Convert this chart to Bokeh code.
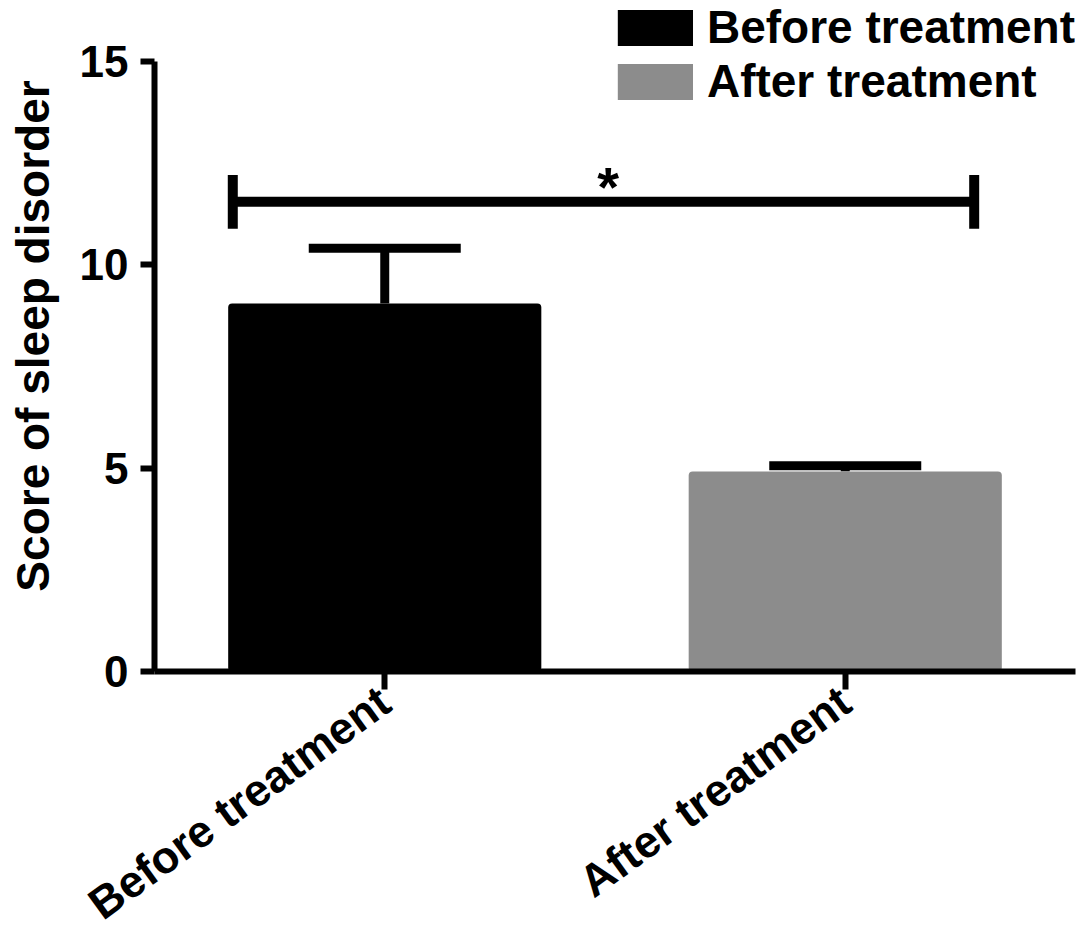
from bokeh.plotting import figure
from bokeh.models import (ColumnDataSource, FactorRange, Range1d, FixedTicker, Whisker,
                          TeeHead, Legend, LegendItem)
from bokeh.core.properties import value
from bokeh.embed import file_html
from bokeh.resources import INLINE

# ---- data ----
groups = ["Before treatment", "After treatment"]
means = [9.05, 4.92]
sds = [1.36, 0.14]
colors = ["#000000", "#8C8C8C"]
y_ticks = [0, 5, 10, 15]
sig_level = 11.55
sig_label = "*"

FONT = "Liberation Sans"

src = ColumnDataSource(dict(
    x=groups, top=means,
    upper=[m + s for m, s in zip(means, sds)],
    lower=means,
    color=colors,
))

p = figure(x_range=FactorRange(*groups, range_padding=0),
           y_range=Range1d(0, 16.5),
           width=1087, height=952,
           min_border_left=154, min_border_right=12, min_border_top=0, min_border_bottom=280,
           output_backend="svg", toolbar_location=None)

bars = p.vbar(x="x", top="top", bottom=0, width=0.68, source=src,
              fill_color="color", line_color=None, border_radius=4)

whisk = Whisker(source=src, base="x", upper="upper", lower="lower",
                dimension="height", line_width=9, line_color="black",
                upper_head=TeeHead(size=152, line_width=9, line_color="black"),
                lower_head=None)
p.add_layout(whisk)

# significance bracket
left_end = (groups[0], -0.33)
right_end = (groups[1], 0.28)
half_tick = 0.66
p.segment(x0=[left_end], y0=[sig_level], x1=[right_end], y1=[sig_level],
          line_width=10, line_color="black")
p.segment(x0=[left_end, right_end], y0=[sig_level - half_tick] * 2,
          x1=[left_end, right_end], y1=[sig_level + half_tick] * 2,
          line_width=10, line_color="black")
p.text(x=[(groups[1], -0.515)], y=[sig_level + 0.37], text=[sig_label],
       text_font=value(FONT), text_font_style="bold", text_font_size="56px",
       text_align="center", text_baseline="alphabetic", text_color="black")

# axes
p.xgrid.visible = False
p.ygrid.visible = False
p.outline_line_color = None
p.background_fill_color = "white"
p.border_fill_color = "white"

for ax in (p.xaxis[0], p.yaxis[0]):
    ax.axis_line_width = 6
    ax.axis_line_color = "black"
    ax.major_tick_line_width = 6
    ax.major_tick_line_color = "black"
    ax.major_tick_in = 0
    ax.minor_tick_line_color = None
    ax.major_label_text_font = FONT
    ax.major_label_text_font_style = "bold"
    ax.major_label_text_color = "black"

p.xaxis.major_label_text_font_size = "45px"
p.xaxis.major_tick_out = 18
p.xaxis.major_label_standoff = 7
p.xaxis.major_label_orientation = 0.63

p.yaxis.major_label_text_font_size = "44px"
p.yaxis.ticker = FixedTicker(ticks=y_ticks)
p.yaxis.bounds = (0, 15)
p.yaxis.major_tick_out = 14
p.yaxis.major_label_standoff = 12
p.yaxis.axis_label = "Score of sleep disorder"
p.yaxis.axis_label_text_font = FONT
p.yaxis.axis_label_text_font_style = "bold"
p.yaxis.axis_label_text_font_size = "46px"
p.yaxis.axis_label_text_color = "black"
p.yaxis.axis_label_standoff = 18

legend = Legend(items=[LegendItem(label=groups[0], renderers=[bars], index=0),
                       LegendItem(label=groups[1], renderers=[bars], index=1)],
                location="top_right", margin=0, padding=2, spacing=0,
                glyph_width=94, glyph_height=45, label_standoff=5,
                label_text_font=FONT, label_text_font_style="bold",
                label_text_font_size="46px", label_text_color="black",
                border_line_color=None, background_fill_alpha=0)
p.add_layout(legend)

open("out.html", "w").write(file_html(p, INLINE))
